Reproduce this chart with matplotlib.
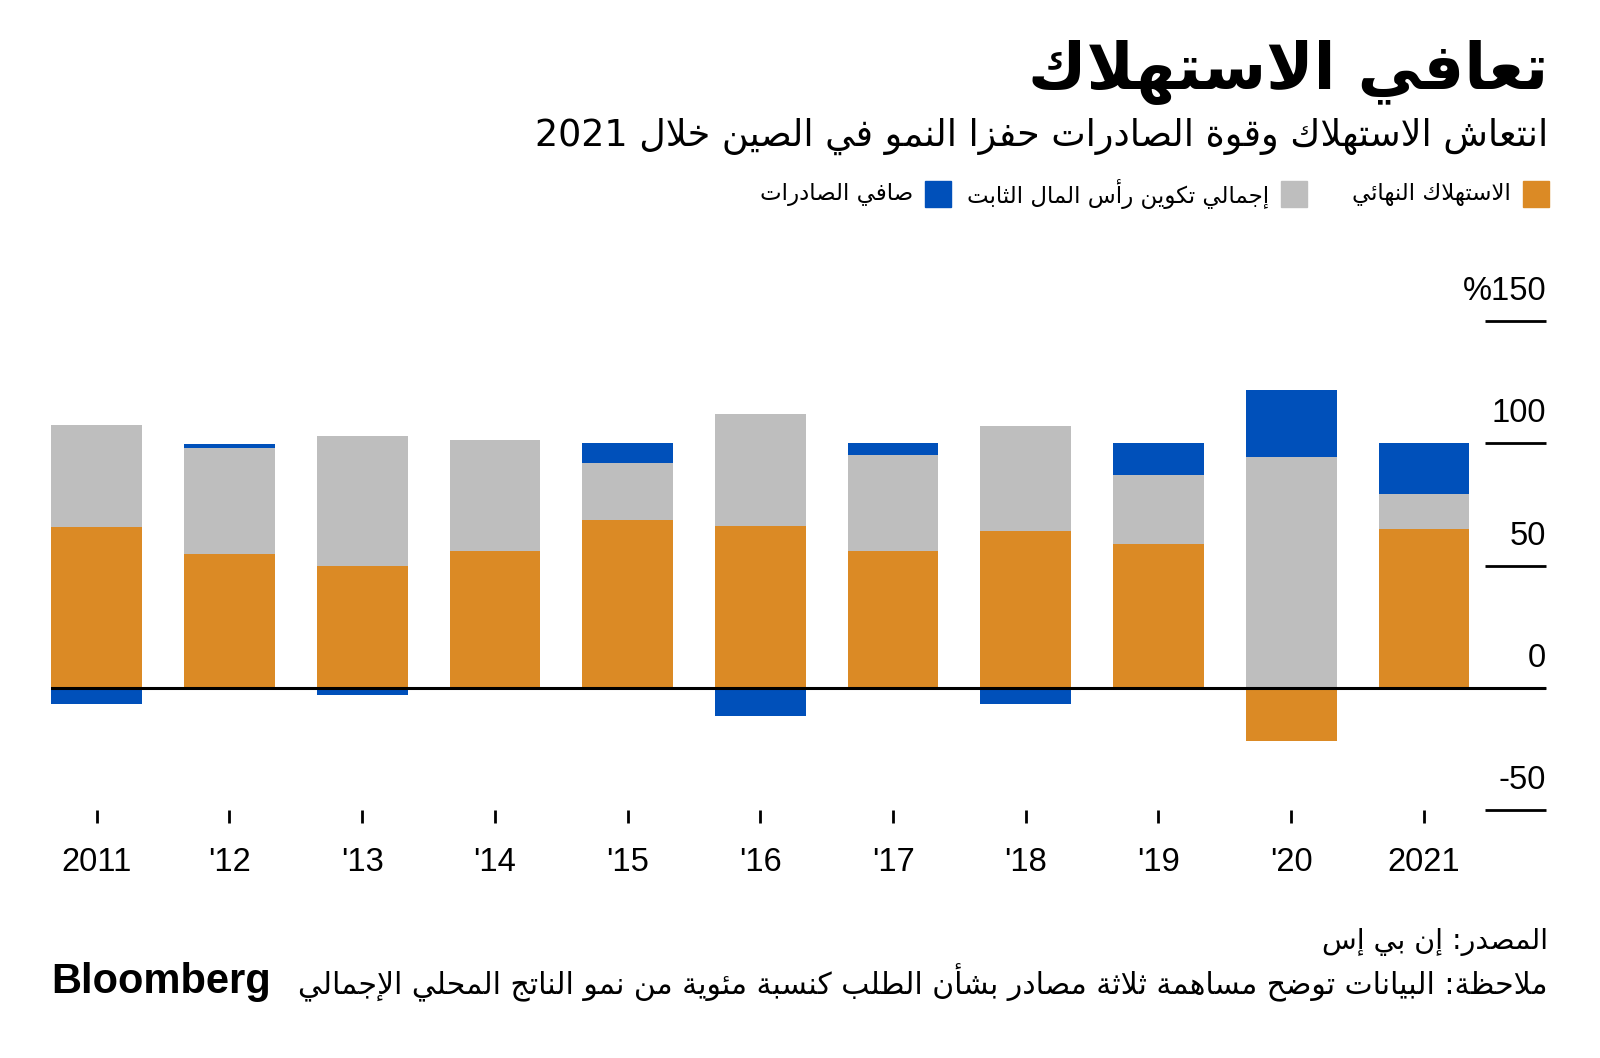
import re
import matplotlib
matplotlib.use("Agg")
import matplotlib.pyplot as plt
from matplotlib.patches import Rectangle

# ---- data -------------------------------------------------------------
years = ["2011", "'12", "'13", "'14", "'15", "'16", "'17", "'18", "'19", "'20", "2021"]
consumption = [65.8, 54.6, 50.0, 55.8, 68.7, 66.2, 55.8, 64.2, 58.7, -21.7, 65.0]
capital = [41.7, 43.3, 52.9, 45.4, 23.3, 45.8, 39.2, 42.9, 28.3, 94.2, 14.2]
net_exports = [-6.7, 1.7, -2.9, 0.0, 7.9, -11.7, 5.0, -6.7, 12.9, 27.5, 20.8]

series_names = ["الاستهلاك النهائي", "إجمالي تكوين رأس المال الثابت", "صافي الصادرات"]
colors = ["#DB8A25", "#BEBEBE", "#0050BA"]
yticks = [-50, 0, 50, 100, 150]
ytick_labels = ["-50", "0", "50", "100", "%150"]

title = "تعافي الاستهلاك"
subtitle = "انتعاش الاستهلاك وقوة الصادرات حفزا النمو في الصين خلال 2021"
source = "المصدر: إن بي إس"
note = "ملاحظة: البيانات توضح مساهمة ثلاثة مصادر بشأن الطلب كنسبة مئوية من نمو الناتج المحلي الإجمالي"

# ---- minimal arabic shaping (matplotlib has no complex text layout) ---
_letters = "ءآأؤإئابةتثجحخدذرزسشصضطظعغفقكلمنهوىي"
_nforms = [1, 2, 2, 2, 2, 4, 2, 4, 2, 4, 4, 4, 4, 4, 2, 2, 2, 2, 4, 4, 4, 4, 4, 4, 4, 4,
           4, 4, 4, 4, 4, 4, 4, 2, 2, 4]
FORMS = {}
_cp = 0xFE80
for ch, k in zip(_letters, _nforms):
    FORMS[ch] = (_cp, k)
    _cp += k
LAM_ALEF = {"آ": 0xFEF5, "أ": 0xFEF7, "إ": 0xFEF9, "ا": 0xFEFB}


def ar(s):
    out = []
    i, n = 0, len(s)
    while i < n:
        c = s[i]
        if c not in FORMS:
            out.append(c)
            i += 1
            continue
        prev = s[i - 1] if i > 0 else ""
        link_prev = prev in FORMS and FORMS[prev][1] == 4
        if c == "ل" and i + 1 < n and s[i + 1] in LAM_ALEF:
            out.append(chr(LAM_ALEF[s[i + 1]] + (1 if link_prev else 0)))
            i += 2
            continue
        nxt = s[i + 1] if i + 1 < n else ""
        base, k = FORMS[c]
        link_next = k == 4 and nxt in FORMS and FORMS[nxt][1] > 1
        if k == 1:
            f = 0
        elif link_prev and link_next:
            f = 3
        elif link_prev:
            f = 1
        elif link_next:
            f = 2
        else:
            f = 0
        out.append(chr(base + f))
        i += 1
    vis = "".join(reversed(out))
    return re.sub(r"[0-9]+", lambda m: m.group(0)[::-1], vis)


AR_FONT = ["DejaVu Sans"]
NUM_FONT = ["Liberation Sans", "DejaVu Sans"]

# ---- figure -----------------------------------------------------------
W, H = 1600, 1058
fig = plt.figure(figsize=(W / 100, H / 100), dpi=100)
fig.patch.set_facecolor("white")

ax = fig.add_axes([51 / W, (H - 810) / H, (1546 - 51) / W, (810 - 321) / H])
x = list(range(len(years)))

pos_bottom = [0.0] * len(x)
neg_bottom = [0.0] * len(x)
for vals, col in zip([consumption, capital, net_exports], colors):
    bottoms = []
    for j, v in enumerate(vals):
        if v >= 0:
            bottoms.append(pos_bottom[j])
            pos_bottom[j] += v
        else:
            bottoms.append(neg_bottom[j])
            neg_bottom[j] += v
    ax.bar(x, vals, bottom=bottoms, width=0.684, color=col, linewidth=0, zorder=2)

ax.axhline(0, color="black", lw=2.2, zorder=5)
ax.set_xlim(-0.345, 10.92)
ax.set_ylim(-50, 150)

for s in ax.spines.values():
    s.set_visible(False)

ax.set_xticks(x)
ax.set_xticklabels(years, fontsize=23.5, family=NUM_FONT)
ax.tick_params(axis="x", direction="out", length=9.5, width=2, pad=17, color="black")

ax.yaxis.tick_right()
ax.set_yticks(yticks)
ax.set_yticklabels([])
ax.tick_params(axis="y", direction="in", length=44, width=2, color="black")
for v, lab in zip(yticks, ytick_labels):
    ax.annotate(lab, xy=(1, v), xycoords=("axes fraction", "data"), xytext=(0, 10),
                textcoords="offset points", ha="right", va="bottom", fontsize=23.5,
                family=NUM_FONT, annotation_clip=False)

# ---- titles -----------------------------------------------------------
fig.text(1548 / W, 1 - 72 / H, ar(title), ha="right", va="center", fontsize=46,
         fontweight="bold", family=AR_FONT)
fig.text(1548 / W, 1 - 136 / H, ar(subtitle), ha="right", va="center", fontsize=26.3,
         family=AR_FONT)

# legend: square right edges (px) as in the original, text to the left of each
legend_right = [1549, 1307, 951]
ly = 194
sq = 26
for xr, name, col in zip(legend_right, series_names, colors):
    fig.patches.append(Rectangle(((xr - sq) / W, 1 - (ly + sq / 2) / H), sq / W, sq / H,
                                 transform=fig.transFigure, color=col, figure=fig))
    fig.text((xr - sq - 12) / W, 1 - ly / H, ar(name), ha="right", va="center",
             fontsize=16.5, family=AR_FONT)

# ---- footer -----------------------------------------------------------
fig.text(1548 / W, 1 - 942 / H, ar(source), ha="right", va="center", fontsize=20.5,
         family=AR_FONT)
fig.text(1548 / W, 1 - 983 / H, ar(note), ha="right", va="center", fontsize=21.5,
         family=AR_FONT)
fig.text(51 / W, 1 - 982 / H, "Bloomberg", ha="left", va="center", fontsize=30,
         fontweight="bold", family=NUM_FONT)

fig.savefig("out.png", dpi=100)
